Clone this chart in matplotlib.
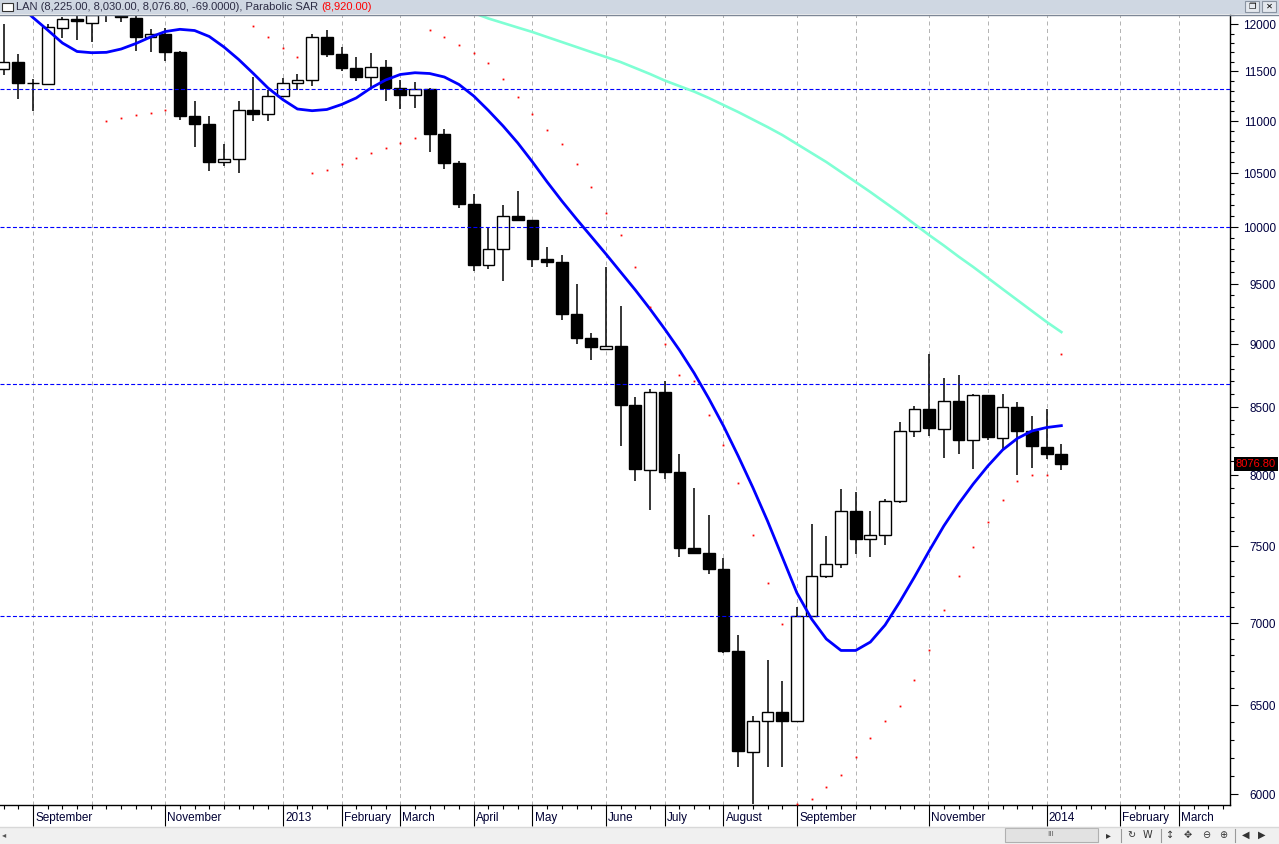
import numpy as np
import matplotlib
matplotlib.use("Agg")
import matplotlib.pyplot as plt
from matplotlib import transforms
from matplotlib.patches import Rectangle
from matplotlib.ticker import FixedLocator, NullFormatter

plt.rcParams['font.family'] = ['Liberation Sans', 'DejaVu Sans']

# weekly bars, week 0 = first week of September 2012
first_week = -2
opens = [11530, 11600, 11380, 11370, 11960, 12055, 12015, 12180, 12120, 12065,
         11860, 11890, 11705, 11050, 10970, 10600, 10625, 11110, 11065, 11245,
         11380, 11410, 11860, 11680, 11535, 11440, 11545, 11330, 11255, 11325,
         10870, 10590, 10205, 9660, 9800, 10095, 10060, 9715, 9690, 9245,
         9045, 8960, 8980, 8515, 8030, 8615, 8020, 7490, 7455, 7345,
         6825, 6230, 6405, 6460, 6405, 7045, 7300, 7380, 7745, 7550,
         7575, 7810, 8320, 8485, 8335, 8545, 8250, 8590, 8265, 8500,
         8320, 8200, 8146]
highs = [12000, 11680, 11425, 12000, 12080, 12140, 12150, 12300, 12200, 12120,
         11945, 11960, 11715, 11200, 11050, 10775, 11200, 11440, 11305, 11435,
         11475, 11900, 11935, 11755, 11650, 11695, 11620, 11410, 11390, 11330,
         10915, 10605, 10300, 9995, 10195, 10325, 10060, 9820, 9750, 9495,
         9085, 9640, 9310, 8580, 8640, 8705, 8150, 7900, 7715, 7420,
         6925, 6435, 6770, 6640, 7100, 7650, 7570, 7895, 7875, 7745,
         7825, 8385, 8510, 8915, 8725, 8750, 8600, 8595, 8605, 8540,
         8435, 8485, 8225]
lows = [11465, 11220, 11100, 11365, 11850, 11835, 11805, 12025, 12027, 11715,
        11705, 11610, 11010, 10745, 10515, 10565, 10500, 11000, 11000, 11245,
        11305, 11355, 11655, 11505, 11400, 11325, 11200, 11115, 11130, 10700,
        10530, 10170, 9605, 9630, 9525, 10055, 9640, 9640, 9195, 9000,
        8870, 8955, 8205, 7950, 7750, 7970, 7425, 7450, 7315, 6810,
        6150, 5945, 6150, 6150, 6405, 7045, 7290, 7355, 7450, 7430,
        7510, 7800, 8275, 8285, 8120, 8150, 8040, 8250, 8185, 8000,
        8050, 8115, 8030]
closes = [11600, 11385, 11380, 11965, 12055, 12030, 12095, 12200, 12075, 11865,
          11895, 11705, 11050, 10970, 10600, 10630, 11105, 11070, 11245, 11380,
          11410, 11860, 11685, 11540, 11445, 11545, 11335, 11260, 11325, 10875,
          10595, 10210, 9665, 9800, 10095, 10065, 9715, 9690, 9245, 9050,
          8970, 8980, 8520, 8040, 8615, 8020, 7490, 7455, 7345, 6825,
          6235, 6410, 6460, 6410, 7045, 7300, 7380, 7745, 7550, 7575,
          7810, 8320, 8485, 8340, 8545, 8255, 8590, 8275, 8500, 8320,
          8205, 8146, 8076.8]

# smooth blue indicator line
trend_line = [12375, 12220, 12072, 11937, 11799, 11709, 11696, 11700, 11735, 11793,
              11862, 11921, 11945, 11932, 11868, 11756, 11625, 11479, 11330, 11213,
              11118, 11101, 11113, 11163, 11229, 11330, 11412, 11469, 11487, 11479,
              11443, 11366, 11249, 11103, 10949, 10783, 10600, 10411, 10234, 10069,
              9912, 9757, 9600, 9446, 9286, 9120, 8949, 8766, 8567, 8358,
              8135, 7907, 7672, 7428, 7191, 7024, 6899, 6828, 6828, 6880,
              6986, 7133, 7295, 7468, 7638, 7791, 7932, 8062, 8179, 8264,
              8320, 8346, 8360]

# long moving average (aquamarine), starts at week 29
long_ma_start = 29
long_ma = [12176, 12122, 12062, 12013, 11964, 11916, 11862, 11809, 11756, 11703,
           11651, 11598, 11536, 11474, 11407, 11350, 11294, 11229, 11158, 11088,
           11013, 10939, 10861, 10773, 10686, 10600, 10505, 10411, 10317, 10220,
           10124, 10024, 9925, 9832, 9735, 9644, 9549, 9454, 9361, 9269,
           9178, 9095]

nan = np.nan
sar = [nan, nan, nan, nan, nan, nan, nan, 10995, 11025, 11055,
       11075, 11105, nan, nan, nan, nan, nan, 11977, 11859, 11751,
       11648, 10492, 10521, 10578, 10635, 10683, 10731, 10780, 10828, 11937,
       11862, 11777, 11693, 11585, 11419, 11236, 11065, 10907, 10770, 10578,
       10361, 10121, 9923, 9641, 9305, 8995, 8747, 8700, 8438, 8216,
       7937, 7574, 7254, 6991, 5947, 5972, 6036, 6102, 6205, 6309,
       6406, 6493, 6647, 6829, 7080, 7300, 7493, 7663, 7816, 7951,
       7995, 7995, 8920]

levels = [11320, 10000, 8680, 7040]

month_weeks = [0, 4, 9, 13, 17, 21, 25, 30, 34, 39, 43, 47, 52, 56, 61, 65, 69, 74, 78]
month_labels = ['September', '', 'November', '', '2013', 'February', 'March', 'April',
                'May', 'June', 'July', 'August', 'September', '', 'November', '',
                '2014', 'February', 'March']
price_ticks = list(range(6000, 12001, 500))
title_text = "LAN (8,225.00, 8,030.00, 8,076.80, -69.0000), Parabolic SAR "
sar_text = "(8,920.00)"
last_text = "8076.80"

W, H = 1279, 844


def fx(px):
    return px / W


def fy(py):
    return 1 - py / H


fig = plt.figure(figsize=(W / 100, H / 100), dpi=100)
fig.patch.set_facecolor('white')

# title bar and bottom toolbar
fig.add_artist(Rectangle((0, fy(14)), 1, fy(0) - fy(14), transform=fig.transFigure,
                         facecolor='#cfd7e2', edgecolor='none'))
fig.add_artist(plt.Line2D([0, 1], [fy(14.5), fy(14.5)], transform=fig.transFigure,
                          color='#7d8796', lw=1))
fig.add_artist(Rectangle((0, 0), 1, fy(827), transform=fig.transFigure,
                         facecolor='#f0f0f0', edgecolor='none'))
fig.add_artist(plt.Line2D([0, 1], [fy(826.5), fy(826.5)], transform=fig.transFigure,
                          color='#d8d8d8', lw=1))

ax = fig.add_axes([0, fy(805), fx(1230), fy(15) - fy(805)])
x = np.arange(first_week, first_week + len(opens))
o = np.array(opens, dtype=float)
c = np.array(closes, dtype=float)
lo = np.minimum(o, c)
hi = np.maximum(o, c)

# month gridlines
for m in month_weeks:
    ax.axvline(m, color='#b4b4b4', lw=0.72, ls=(0, (4, 3.5)), zorder=0)

ax.vlines(x, lows, highs, color='black', lw=1.1, zorder=2)
ax.bar(x, hi - lo, bottom=lo, width=0.8,
       color=np.where(c >= o, 'white', 'black'), edgecolor='black',
       linewidth=1.0, zorder=3)

for lv in levels:
    ax.axhline(lv, color='#0000ff', lw=0.8, ls=(0, (3.6, 2.0)), zorder=4)

ax.plot(x, trend_line, color='#0000ff', lw=2.0, zorder=5)
xm = np.arange(long_ma_start, long_ma_start + len(long_ma))
ax.plot(xm, long_ma, color='#7fffd4', lw=1.9, zorder=5)
ax.plot(x, sar, ls='none', marker='s', ms=1.3, color='red', mec='none', zorder=6)

ax.set_yscale('log')
ax.set_ylim(5941, 12100)
ax.set_xlim(-2.246, 81.48)

ax.yaxis.tick_right()
ax.yaxis.set_major_locator(FixedLocator(price_ticks))
ax.yaxis.set_minor_locator(FixedLocator(list(range(6000, 12101, 100))))
ax.yaxis.set_major_formatter(NullFormatter())
ax.yaxis.set_minor_formatter(NullFormatter())
ax.tick_params(axis='y', which='major', length=5.5, width=0.8, color='black')
ax.tick_params(axis='y', which='minor', length=3, width=0.8, color='black')

labelled = [m for m, lab in zip(month_weeks, month_labels) if lab]
ax.xaxis.set_major_locator(FixedLocator(labelled))
ax.xaxis.set_minor_locator(FixedLocator(list(range(-2, 82))))
ax.xaxis.set_major_formatter(NullFormatter())
ax.tick_params(axis='x', which='major', length=15, width=0.8, color='black')
ax.tick_params(axis='x', which='minor', length=3, width=0.8, color='black')

for side in ['top', 'left']:
    ax.spines[side].set_visible(False)
ax.spines['right'].set_linewidth(1)
ax.spines['bottom'].set_linewidth(1)

# price labels on the right
ytrans = transforms.offset_copy(transforms.blended_transform_factory(ax.transAxes, ax.transData),
                                fig=fig, x=0, y=-2, units='dots')
for p in price_ticks:
    ax.text(1276 / 1230, p, str(p), transform=ytrans, ha='right', va='center',
            fontsize=8.5, color='#000040', clip_on=False)

ax.text(1236 / 1230, closes[-1], last_text,
        transform=transforms.blended_transform_factory(ax.transAxes, ax.transData),
        ha='left', va='center', fontsize=8, color='red', clip_on=False,
        bbox=dict(facecolor='black', edgecolor='none', pad=1.3))

# month labels
xtrans = transforms.blended_transform_factory(ax.transData, ax.transAxes)
for m, lab in zip(month_weeks, month_labels):
    if lab:
        ax.text(m + 0.15, -13 / 790, lab, transform=xtrans, ha='left', va='center',
                fontsize=8.5, color='#000033', clip_on=False)

# title
fig.add_artist(Rectangle((fx(2), fy(11)), fx(11), fy(3) - fy(11), transform=fig.transFigure,
                         facecolor='white', edgecolor='#333333', lw=0.8))
t1 = fig.text(fx(16), fy(7.5), title_text, ha='left', va='center', fontsize=8,
              color='#2c2c44')
fig.canvas.draw()
bb = t1.get_window_extent()
fig.text(bb.x1 / W, fy(7.5), sar_text, ha='left', va='center', fontsize=8, color='#ff0000')

# window buttons
for bx, sym in [(1245, '\u2750'), (1262, '\u2715')]:
    fig.add_artist(Rectangle((fx(bx), fy(12)), fx(14), fy(1) - fy(12), transform=fig.transFigure,
                             facecolor='#e4e8ee', edgecolor='#8a94a2', lw=0.8))
    fig.text(fx(bx + 7), fy(6.5), sym, ha='center', va='center', fontsize=6,
             family='DejaVu Sans', color='black')

# toolbar: scroll thumb and controls
fig.add_artist(Rectangle((fx(1005), fy(842)), fx(93), fy(828) - fy(842), transform=fig.transFigure,
                         facecolor='#e2e2e2', edgecolor='#b0b0b0', lw=0.8))
fig.text(fx(1051), fy(835), 'III', ha='center', va='center', fontsize=6, color='#666666')
fig.text(fx(4), fy(835), '\u25c2', ha='center', va='center', fontsize=6, color='#555555',
         family='DejaVu Sans')
for bx, sym in [(1108, '\u25b8'), (1131, '\u21bb'), (1147, 'W'), (1170, '\u2195'),
                (1188, '\u2725'), (1206, '\u2296'), (1223, '\u2295'), (1246, '\u25c0'),
                (1262, '\u25b6')]:
    fig.text(fx(bx), fy(835), sym, ha='center', va='center', fontsize=7, color='#333333',
             family=['DejaVu Sans'])
for bx in [1121, 1161, 1235]:
    fig.add_artist(plt.Line2D([fx(bx), fx(bx)], [fy(829), fy(842)], transform=fig.transFigure,
                              color='#999999', lw=0.8))

fig.savefig('out.png', dpi=100)
